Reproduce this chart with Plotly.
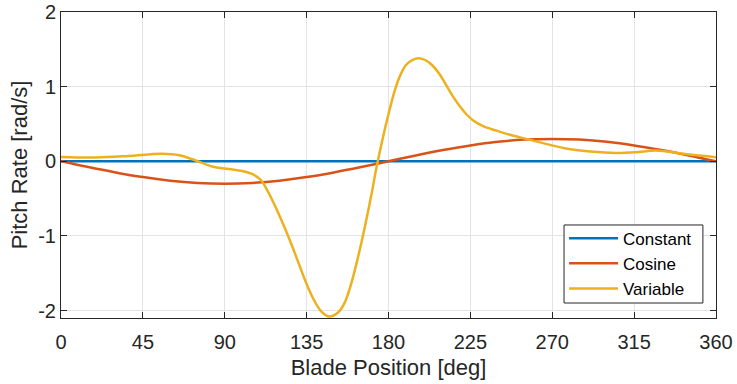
import plotly.graph_objects as go

# Blade angular position samples [deg]
constant_deg = [0, 90, 180, 270, 360]
constant_rate = [0, 0, 0, 0, 0]

cosine_deg = [0, 15, 30, 45, 60, 75, 90, 105, 120, 135, 150, 165, 180,
              195, 210, 225, 240, 255, 270, 285, 300, 315, 330, 345, 360]
cosine_rate = [0, -0.078, -0.15, -0.212, -0.26, -0.29, -0.30, -0.29, -0.26,
               -0.212, -0.15, -0.078, 0, 0.078, 0.15, 0.212, 0.26, 0.29, 0.30,
               0.29, 0.26, 0.212, 0.15, 0.078, 0]

variable_deg = [0, 19, 37, 55.5, 65, 74, 83, 92.3, 99.6, 105, 109.8, 113.4,
                117.1, 120.8, 124.5, 128.2, 131.9, 135.6, 139.3, 143, 147.5,
                152.1, 155.8, 159.5, 163.2, 166.9, 170.6, 173.5, 177.6,
                180.4, 183.1, 185.9, 189.6, 193.3, 196.6, 200.7, 204.3, 208,
                211.7, 215.4, 219.1, 222.8, 226.4, 232, 239.4, 246.7, 259,
                277.5, 291, 305, 316, 327, 342, 360]
variable_rate = [0.057, 0.05, 0.07, 0.10, 0.08, 0.01, -0.07, -0.105, -0.13,
                 -0.17, -0.25, -0.39, -0.57, -0.77, -0.98, -1.21, -1.45, -1.68,
                 -1.87, -2.01, -2.08, -2.03, -1.90, -1.64, -1.29, -0.89, -0.45,
                 -0.07, 0.39, 0.67, 0.92, 1.12, 1.29, 1.36, 1.38, 1.35,
                 1.28, 1.17, 1.02, 0.87, 0.74, 0.63, 0.55, 0.47, 0.41, 0.355,
                 0.28, 0.17, 0.13, 0.11, 0.12, 0.145, 0.10, 0.055]

x_ticks = [0, 45, 90, 135, 180, 225, 270, 315, 360]
y_ticks = [-2, -1, 0, 1, 2]
y_tick_text = ["-2", "-1", "0", "1", "2"]

FONT = "Liberation Sans, Arial, Helvetica, sans-serif"
AXIS_COLOR = "#262626"
GRID_COLOR = "#e3e3e3"

fig = go.Figure()
fig.add_trace(go.Scatter(x=constant_deg, y=constant_rate, mode="lines",
                         name="Constant",
                         line=dict(color="#0072BD", width=2.5)))
fig.add_trace(go.Scatter(x=cosine_deg, y=cosine_rate, mode="lines",
                         name="Cosine",
                         line=dict(color="#D95319", width=2.5, shape="spline")))
fig.add_trace(go.Scatter(x=variable_deg, y=variable_rate, mode="lines",
                         name="Variable",
                         line=dict(color="#EDB120", width=2.5, shape="spline",
                                   smoothing=1.0)))

axis_common = dict(
    showline=True, linecolor=AXIS_COLOR, linewidth=1, mirror="ticks",
    ticks="inside", ticklen=6, tickcolor=AXIS_COLOR, tickwidth=1,
    showgrid=True, gridcolor=GRID_COLOR, gridwidth=1, zeroline=False,
    automargin=False,
    tickfont=dict(family=FONT, size=20, color=AXIS_COLOR),
)

fig.update_xaxes(range=[0, 360], tickvals=x_ticks, ticklabelstandoff=6,
                 title=dict(text="Blade Position [deg]",
                            font=dict(family=FONT, size=22, color=AXIS_COLOR),
                            standoff=7),
                 **axis_common)
fig.update_yaxes(range=[-2.1, 2], tickvals=y_ticks, ticktext=y_tick_text,
                 title=dict(text="Pitch Rate [rad/s]",
                            font=dict(family=FONT, size=22, color=AXIS_COLOR),
                            standoff=4),
                 **axis_common)

# Legend frame drawn as a paper-anchored box behind the legend entries
fig.add_shape(type="rect", xref="paper", yref="paper",
              x0=0.768, x1=0.980, y0=0.049, y1=0.304,
              fillcolor="white", line=dict(color=AXIS_COLOR, width=1),
              layer="above")

fig.update_layout(
    width=737, height=384,
    margin=dict(l=61, r=21, t=12, b=66),
    plot_bgcolor="white", paper_bgcolor="white",
    showlegend=True,
    legend=dict(x=0.768, y=0.037, xanchor="left", yanchor="bottom",
                bgcolor="rgba(0,0,0,0)", borderwidth=0,
                font=dict(family=FONT, size=17, color="#000000"),
                tracegroupgap=0, itemwidth=49),
)

fig.write_html("out.html")
